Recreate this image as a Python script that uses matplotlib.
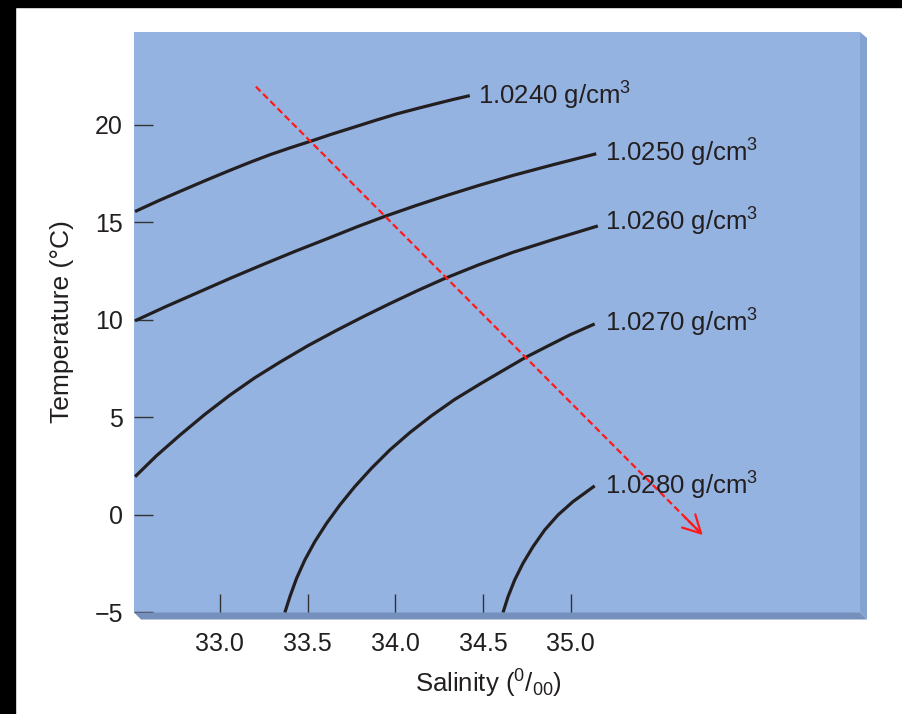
import matplotlib
matplotlib.use('Agg')
import matplotlib.pyplot as plt
from matplotlib.patches import Rectangle, Polygon

plt.rcParams['font.family'] = ['Liberation Sans', 'DejaVu Sans']
plt.rcParams['mathtext.fontset'] = 'custom'
plt.rcParams['mathtext.rm'] = 'Liberation Sans'
plt.rcParams['mathtext.it'] = 'Liberation Sans:italic'
plt.rcParams['mathtext.bf'] = 'Liberation Sans:bold'

# isopycnals: salinity (per mille) vs temperature (C)
s_1024 = [32.516, 32.644, 32.772, 32.915, 33.057, 33.171, 33.285, 33.399, 33.513,
          33.636, 33.760, 33.883, 34.007, 34.121, 34.235, 34.329, 34.425]
t_1024 = [15.55, 16.08, 16.58, 17.13, 17.66, 18.07, 18.46, 18.81, 19.14,
          19.51, 19.86, 20.21, 20.55, 20.82, 21.08, 21.29, 21.49]

s_1025 = [32.516, 32.692, 32.867, 33.057, 33.247, 33.437, 33.627, 33.783, 33.940,
          34.116, 34.292, 34.481, 34.671, 34.909, 35.146]
t_1025 = [9.95, 10.68, 11.37, 12.12, 12.84, 13.54, 14.21, 14.77, 15.30,
          15.85, 16.37, 16.90, 17.40, 17.97, 18.51]

s_1026 = [32.516, 32.639, 32.772, 32.915, 33.057, 33.199, 33.342, 33.503, 33.665,
          33.817, 33.969, 34.125, 34.282, 34.476, 34.671, 34.913, 35.155]
t_1026 = [1.96, 3.04, 4.09, 5.16, 6.14, 7.03, 7.83, 8.68, 9.46,
          10.16, 10.83, 11.49, 12.12, 12.82, 13.46, 14.15, 14.81]

s_1027 = [33.370, 33.399, 33.437, 33.484, 33.541, 33.608, 33.684, 33.769, 33.864,
          33.969, 34.083, 34.206, 34.339, 34.481, 34.614, 34.738, 34.862, 34.994, 35.137]
t_1027 = [-5.01, -4.19, -3.25, -2.31, -1.37, -0.43, 0.51, 1.45, 2.39,
          3.33, 4.22, 5.08, 5.92, 6.70, 7.40, 8.05, 8.62, 9.22, 9.79]

s_1028 = [34.614, 34.643, 34.681, 34.728, 34.785, 34.852, 34.928, 35.013, 35.137]
t_1028 = [-5.01, -4.19, -3.33, -2.48, -1.63, -0.77, 0.00, 0.68, 1.49]

curves = [(s_1024, t_1024), (s_1025, t_1025), (s_1026, t_1026),
          (s_1027, t_1027), (s_1028, t_1028)]
labels = ['1.0240', '1.0250', '1.0260', '1.0270', '1.0280']
label_s = [34.47, 35.194, 35.194, 35.194, 35.194]
label_t = [21.49, 18.56, 15.03, 9.85, 1.49]

arrow_start = (33.205, 21.95)
arrow_end = (35.753, -1.03)

xticks = [33.0, 33.5, 34.0, 34.5, 35.0]
yticks = [-5, 0, 5, 10, 15, 20]

W, H = 902, 714
fig = plt.figure(figsize=(W / 100, H / 100), dpi=100, facecolor='white')

# black border strips of the scan
fig.add_artist(Rectangle((0, 1 - 7 / H), 1, 7 / H, transform=fig.transFigure,
                         color='black', zorder=0))
fig.add_artist(Rectangle((0, 0), 15 / W, 1, transform=fig.transFigure,
                         color='black', zorder=0))

left, right, top, bottom = 134, 860, 32, 612.5


def fp(x, y):
    return (x / W, 1 - y / H)


# bevel shadows of the blue panel
fig.add_artist(Polygon([fp(right, top), fp(right + 7, top + 6), fp(right + 7, bottom + 7),
                        fp(right, bottom)], closed=True, transform=fig.transFigure,
                       facecolor='#83a2cf', edgecolor='none'))
fig.add_artist(Polygon([fp(left, bottom), fp(right, bottom), fp(right + 7, bottom + 7),
                        fp(left + 7, bottom + 7)], closed=True, transform=fig.transFigure,
                       facecolor='#7690bd', edgecolor='none'))

ax = fig.add_axes([left / W, 1 - bottom / H, (right - left) / W, (bottom - top) / H])
ax.set_facecolor('#95b3e0')
for sp in ax.spines.values():
    sp.set_visible(False)

ink = '#231f20'
for (s, t), lab, ls, lt in zip(curves, labels, label_s, label_t):
    ax.plot(s, t, color=ink, lw=2.3, solid_capstyle='butt', solid_joinstyle='round')
    ax.text(ls, lt, lab + ' g/cm$^{3}$', fontsize=18.5, color=ink,
            ha='left', va='center')

# red dashed arrow
ax.plot([arrow_start[0], arrow_end[0]], [arrow_start[1], arrow_end[1]],
        color='#ff1a1a', lw=1.6, dashes=(3, 1.6))
back = (arrow_end[0] - 0.04 * (arrow_end[0] - arrow_start[0]),
        arrow_end[1] - 0.04 * (arrow_end[1] - arrow_start[1]))
ax.annotate('', xy=arrow_end, xytext=back,
            arrowprops=dict(arrowstyle='->, head_length=0.6, head_width=0.32',
                            color='#ff1a1a', lw=1.6, mutation_scale=21,
                            shrinkA=0, shrinkB=0))

ax.set_xlim(32.51, 36.65)
ax.set_ylim(-5, 24.75)
ax.set_xticks(xticks)
ax.set_xticklabels(['%.1f' % v for v in xticks])
ax.set_yticks(yticks)
ax.tick_params(direction='in', length=13.5, width=1, color='#333333',
               labelsize=18, labelcolor=ink)
ax.tick_params(axis='x', pad=14)
ax.tick_params(axis='y', pad=8)

ax.set_xlabel('Salinity ($^{0}$/$_{00}$)', fontsize=18.5, color=ink)
ax.xaxis.set_label_coords(0.4876, -0.095)
ax.set_ylabel('Temperature (°C)', fontsize=19, color=ink)
ax.yaxis.set_label_coords(-0.083, 0.502)

fig.savefig('out.png', dpi=100, facecolor='white')
